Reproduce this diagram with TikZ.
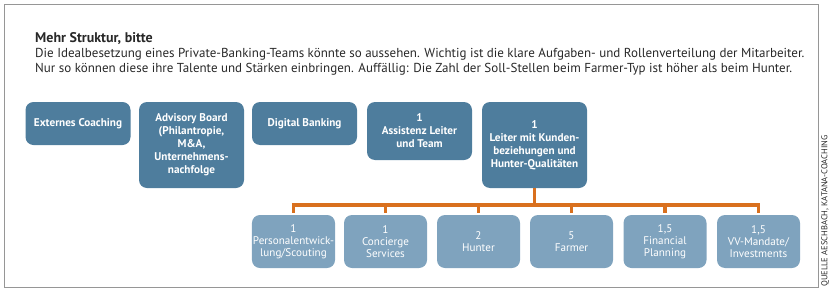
\documentclass[tikz,border=0pt]{standalone}
\usepackage{fontspec}
\setmainfont{PT Sans}
\usepackage{tikz}
\usetikzlibrary{positioning,calc}
\definecolor{FrameGray}{RGB}{150,150,150}
\definecolor{LeadBlue}{RGB}{78,125,157}
\definecolor{TeamBlue}{RGB}{127,163,190}
\definecolor{BusOrange}{RGB}{217,112,30}
\definecolor{TextGray}{RGB}{40,40,40}

\begin{document}
\begin{tikzpicture}[x=1pt, y=-1pt,
    leadbox/.style={fill=LeadBlue, rounded corners=8pt, text=white, align=center,
      font=\fontsize{11.2}{13}\selectfont\bfseries, minimum width=105pt, inner sep=2pt},
    teambox/.style={fill=TeamBlue, rounded corners=8pt, text=white, align=center,
      font=\fontsize{11.1}{12}\selectfont, minimum width=83pt, minimum height=53pt, inner sep=1pt},
    intro/.style={anchor=base west, inner sep=0, text=TextGray, font=\fontsize{13}{15}\selectfont},
    bus/.style={draw=BusOrange, line width=3.5pt}]
  \useasboundingbox (0,0) rectangle (833,292);
  \draw[FrameGray, line width=1pt] (4.5,4.5) rectangle (818,287);
  % Titel und Erlaeuterung
  \node[intro, font=\fontsize{14}{15}\selectfont\bfseries] (title) at (35,42) {Mehr Struktur, bitte};
  \node[intro] (introa) at (35,57) {Die Idealbesetzung eines Private-Banking-Teams könnte so aussehen. Wichtig ist die klare Aufgaben- und Rollenverteilung der Mitarbeiter.};
  \node[intro] (introb) at (35,72) {Nur so können diese ihre Talente und Stärken einbringen. Auffällig: Die Zahl der Soll-Stellen beim Farmer-Typ ist höher als beim Hunter.};
  % obere Reihe
  \node[leadbox, minimum height=43pt] (coach) at (78,123.5) {Externes Coaching};
  \node[leadbox, minimum height=86pt] (board) at (191.5,145) {Advisory Board\\(Philantropie,\\M\&A,\\Unternehmens-\\nachfolge};
  \node[leadbox, minimum height=43pt] (digital) at (304.5,123.5) {Digital Banking};
  \node[leadbox, minimum height=58pt] (assist) at (419.5,131) {1\\Assistenz Leiter\\und Team};
  \node[leadbox, minimum height=86pt] (lead) at (534.5,145) {1\\Leiter mit Kunden-\\beziehungen und\\Hunter-Qualitäten};
  % untere Reihe
  \node[teambox] (staff) at (293.5,241.5) {1\\Personalentwick-\\lung/Scouting};
  \node[teambox] (concierge) at (385.5,241.5) {1\\Concierge\\Services};
  \node[teambox] (hunter) at (478.5,241.5) {2\\Hunter};
  \node[teambox] (farmer) at (571.5,241.5) {5\\Farmer};
  \node[teambox] (planning) at (665,241.5) {1,5\\Financial\\Planning};
  \node[teambox] (mandate) at (758.5,241.5) {1,5\\VV-Mandate/\\Investments};
  % Verbindungen
  \draw[bus] (lead.south) -- ++(0,17) coordinate (fork);
  \draw[bus] ($(staff.north |- fork)+(-1.75,0)$) -- ($(mandate.north |- fork)+(1.75,0)$);
  \foreach \n in {staff,concierge,hunter,farmer,planning,mandate}
    \draw[bus, shorten >=2pt] (\n.north |- fork) -- (\n.north);
  % Quelle
  \node[rotate=90, anchor=west, inner sep=0, text=TextGray, font=\fontsize{8.5}{9}\selectfont] (source) at (825,287) {QUELLE AESCHBACH, KATANA-COACHING};
\end{tikzpicture}
\end{document}
